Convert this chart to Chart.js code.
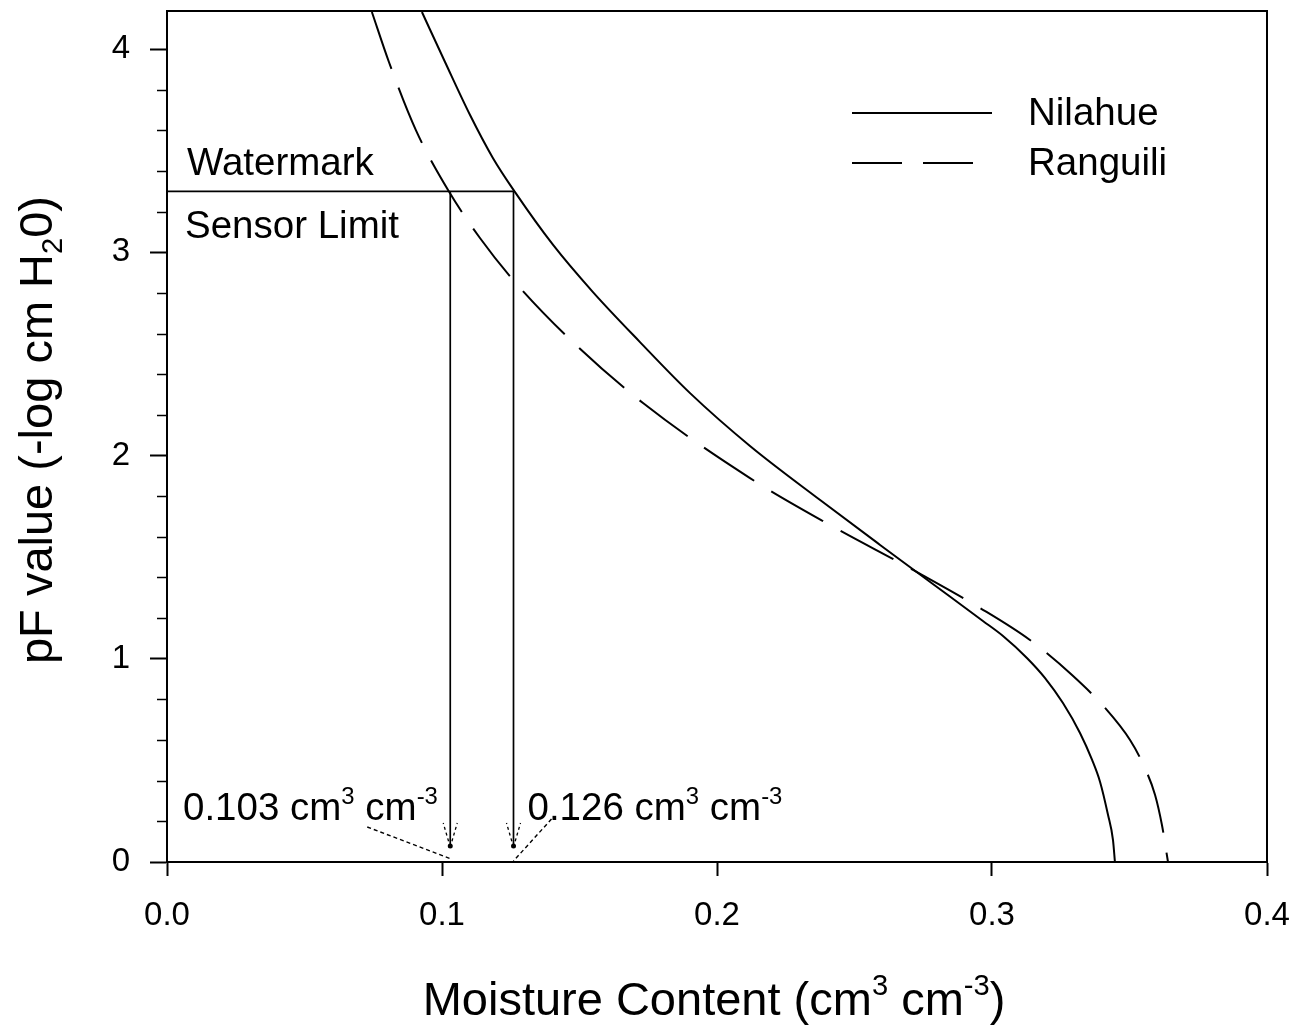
<!DOCTYPE html>
<html>
<head>
<meta charset="utf-8">
<script src="https://cdn.jsdelivr.net/npm/chart.js@4.4.1/dist/chart.umd.min.js"></script>
<style>
  html, body { margin: 0; padding: 0; background: #fff; }
</style>
</head>
<body>
<canvas id="pfChart" width="1297" height="1030"></canvas>
<script>
// water retention curves (moisture content vs pF)
const nilahueTheta = [0.0927, 0.1011, 0.1102, 0.1185, 0.1265, 0.1404, 0.1549, 0.1720, 0.1902, 0.2120, 0.2375, 0.2593, 0.2785, 0.2967, 0.3040, 0.3127, 0.3193, 0.3258, 0.3320, 0.3364, 0.3393, 0.3422, 0.3440, 0.3447];
const nilahuePF    = [4.182, 3.936, 3.675, 3.464, 3.297, 3.036, 2.804, 2.558, 2.307, 2.047, 1.781, 1.560, 1.368, 1.186, 1.112, 1.004, 0.905, 0.782, 0.635, 0.502, 0.394, 0.231, 0.108, 0.0];

const ranguiliTheta = [0.0745, 0.0807, 0.0905, 0.1022, 0.1138, 0.1265, 0.1476, 0.1731, 0.2120, 0.2411, 0.2713, 0.2956, 0.3138, 0.3291, 0.3411, 0.3502, 0.3556, 0.3593, 0.3618, 0.3640];
const ranguiliPF    = [4.182, 3.936, 3.601, 3.306, 3.070, 2.854, 2.558, 2.258, 1.889, 1.658, 1.437, 1.250, 1.092, 0.920, 0.758, 0.600, 0.462, 0.330, 0.182, 0.0];

const seriesNames = ['Nilahue', 'Ranguili'];

// sensor limit (Watermark) and the moisture contents it gives
const sensorLimit = 3.3;
const limitTheta = [0.103, 0.126];
const limitLabels = ['0.103', '0.126'];

const xMin = 0, xMax = 0.4, xStep = 0.1;
const yMin = 0, yMax = 4.187, yStep = 1, yMinorStep = 0.2;

const FONT = '"Liberation Sans", Arial, Helvetica, sans-serif';
const font = s => s + 'px ' + FONT;

function toPoints(xs, ys) {
    return xs.map((x, i) => ({ x: x, y: ys[i] }));
}

// text with super/subscript pieces
function richText(ctx, parts, x, y, size, align) {
    const small = size * 0.62;
    let total = 0;
    parts.forEach(p => {
        ctx.font = font(p.sup || p.sub ? small : size);
        total += ctx.measureText(p.t).width;
    });
    let cx = align === 'center' ? x - total / 2 : x;
    ctx.textAlign = 'left';
    ctx.textBaseline = 'alphabetic';
    parts.forEach(p => {
        const s = p.sup || p.sub ? small : size;
        ctx.font = font(s);
        const dy = p.sup ? -size * 0.42 : (p.sub ? size * 0.22 : 0);
        ctx.fillText(p.t, cx, y + dy);
        cx += ctx.measureText(p.t).width;
    });
}

function dashedLine(ctx, x1, y1, x2, y2, dash) {
    ctx.save();
    ctx.setLineDash(dash);
    ctx.beginPath();
    ctx.moveTo(x1, y1);
    ctx.lineTo(x2, y2);
    ctx.stroke();
    ctx.restore();
}

const extras = {
    id: 'extras',
    afterDatasetsDraw(chart) {
        const ctx = chart.ctx;
        const xs = chart.scales.x, ys = chart.scales.y;
        const area = chart.chartArea;
        ctx.save();
        ctx.strokeStyle = '#000';
        ctx.fillStyle = '#000';

        // top and right frame
        ctx.lineWidth = 2;
        ctx.beginPath();
        ctx.moveTo(area.left, area.top);
        ctx.lineTo(area.right, area.top);
        ctx.lineTo(area.right, area.bottom);
        ctx.stroke();

        // minor y ticks
        ctx.lineWidth = 1.5;
        for (let v = yMin + yMinorStep; v < yMax; v += yMinorStep) {
            if (Math.abs(v - Math.round(v)) < 1e-6) continue;
            const py = Math.round(ys.getPixelForValue(v)) + 0.5;
            ctx.beginPath();
            ctx.moveTo(area.left - 10, py);
            ctx.lineTo(area.left, py);
            ctx.stroke();
        }

        // sensor limit line
        const yLim = ys.getPixelForValue(sensorLimit);
        ctx.lineWidth = 1.7;
        ctx.beginPath();
        ctx.moveTo(area.left, yLim);
        ctx.lineTo(xs.getPixelForValue(Math.max(...limitTheta)), yLim);
        ctx.stroke();

        ctx.font = font(38.5);
        ctx.textAlign = 'left';
        ctx.fillText('Watermark', area.left + 20, yLim - 16);
        ctx.fillText('Sensor Limit', area.left + 18, yLim + 47);

        // drop lines with arrows
        const y0 = ys.getPixelForValue(0);
        limitTheta.forEach(t => {
            const px = xs.getPixelForValue(t);
            const tip = y0 - 15;
            ctx.lineWidth = 1.7;
            ctx.beginPath();
            ctx.moveTo(px, yLim);
            ctx.lineTo(px, tip);
            ctx.stroke();
            ctx.beginPath();
            ctx.arc(px, tip - 1, 2.5, 0, Math.PI * 2);
            ctx.fill();
            ctx.lineWidth = 1.3;
            dashedLine(ctx, px, tip, px - 7, tip - 24, [3, 3]);
            dashedLine(ctx, px, tip, px + 7, tip - 24, [3, 3]);
        });

        // value labels and their leader lines
        const labY = y0 - 42;
        const p0 = xs.getPixelForValue(limitTheta[0]);
        const p1 = xs.getPixelForValue(limitTheta[1]);
        richText(ctx, [{ t: limitLabels[0] + ' cm' }, { t: '3', sup: true }, { t: ' cm' }, { t: '-3', sup: true }], area.left + 16, labY, 38.5, 'left');
        richText(ctx, [{ t: limitLabels[1] + ' cm' }, { t: '3', sup: true }, { t: ' cm' }, { t: '-3', sup: true }], p1 + 14, labY, 38.5, 'left');
        ctx.lineWidth = 1.4;
        dashedLine(ctx, p0 - 83, y0 - 35, p0 + 1, y0 - 3, [4, 3]);
        dashedLine(ctx, p1 + 38, y0 - 43, p1, y0 - 1, [4, 3]);

        // legend
        chart.data.datasets.forEach((ds, i) => {
            const ly = area.top + 102 + i * 50;
            const lx = area.right - 415;
            ctx.lineWidth = ds.borderWidth;
            ctx.save();
            ctx.setLineDash(i === 1 ? [50, 21] : []);
            ctx.beginPath();
            ctx.moveTo(lx, ly);
            ctx.lineTo(lx + (i === 1 ? 121 : 140), ly);
            ctx.stroke();
            ctx.restore();
            ctx.font = font(38.5);
            ctx.textAlign = 'left';
            ctx.textBaseline = 'middle';
            ctx.fillText(ds.label, lx + 176, ly + 1);
            ctx.textBaseline = 'alphabetic';
        });

        // axis titles
        richText(ctx, [{ t: 'Moisture Content (cm' }, { t: '3', sup: true }, { t: ' cm' }, { t: '-3', sup: true }, { t: ')' }],
            (area.left + area.right) / 2 - 3, 1015, 47, 'center');
        ctx.save();
        ctx.translate(52, 430);
        ctx.rotate(-Math.PI / 2);
        richText(ctx, [{ t: 'pF value (-log cm H' }, { t: '2', sub: true }, { t: '0)' }], 0, 0, 47, 'center');
        ctx.restore();

        ctx.restore();
    }
};

const ctx = document.getElementById('pfChart').getContext('2d');

const chart = new Chart(ctx, {
    type: 'scatter',
    data: {
        datasets: [{
            label: seriesNames[0],
            data: toPoints(nilahueTheta, nilahuePF),
            showLine: true,
            borderColor: '#000',
            borderWidth: 2,
            pointRadius: 0,
            cubicInterpolationMode: 'monotone'
        }, {
            label: seriesNames[1],
            data: toPoints(ranguiliTheta, ranguiliPF),
            showLine: true,
            borderColor: '#000',
            borderWidth: 2,
            borderDash: [60, 20],
            pointRadius: 0,
            cubicInterpolationMode: 'monotone'
        }]
    },
    options: {
        responsive: false,
        animation: false,
        layout: { padding: { left: 0, top: 11, right: 30, bottom: 0 } },
        plugins: {
            legend: { display: false },
            tooltip: { enabled: false }
        },
        scales: {
            x: {
                type: 'linear',
                min: xMin,
                max: xMax,
                afterFit: s => { s.height = 168; s.paddingLeft = 0; s.paddingRight = 0; },
                ticks: {
                    stepSize: xStep,
                    autoSkip: false,
                    maxRotation: 0,
                    padding: 20,
                    color: '#000',
                    font: { family: FONT, size: 33 },
                    callback: v => Number(v).toFixed(1)
                },
                grid: { drawOnChartArea: false, tickLength: 14, tickWidth: 2, tickColor: '#000' },
                border: { display: true, color: '#000', width: 2 }
            },
            y: {
                type: 'linear',
                min: yMin,
                max: yMax,
                afterFit: s => { s.width = 167; s.paddingTop = 0; s.paddingBottom = 0; },
                ticks: {
                    stepSize: yStep,
                    includeBounds: false,
                    padding: 20,
                    color: '#000',
                    font: { family: FONT, size: 33 },
                    callback: v => String(v)
                },
                grid: { drawOnChartArea: false, tickLength: 17, tickWidth: 2, tickColor: '#000' },
                border: { display: true, color: '#000', width: 2 }
            }
        }
    },
    plugins: [extras]
});
</script>
</body>
</html>
